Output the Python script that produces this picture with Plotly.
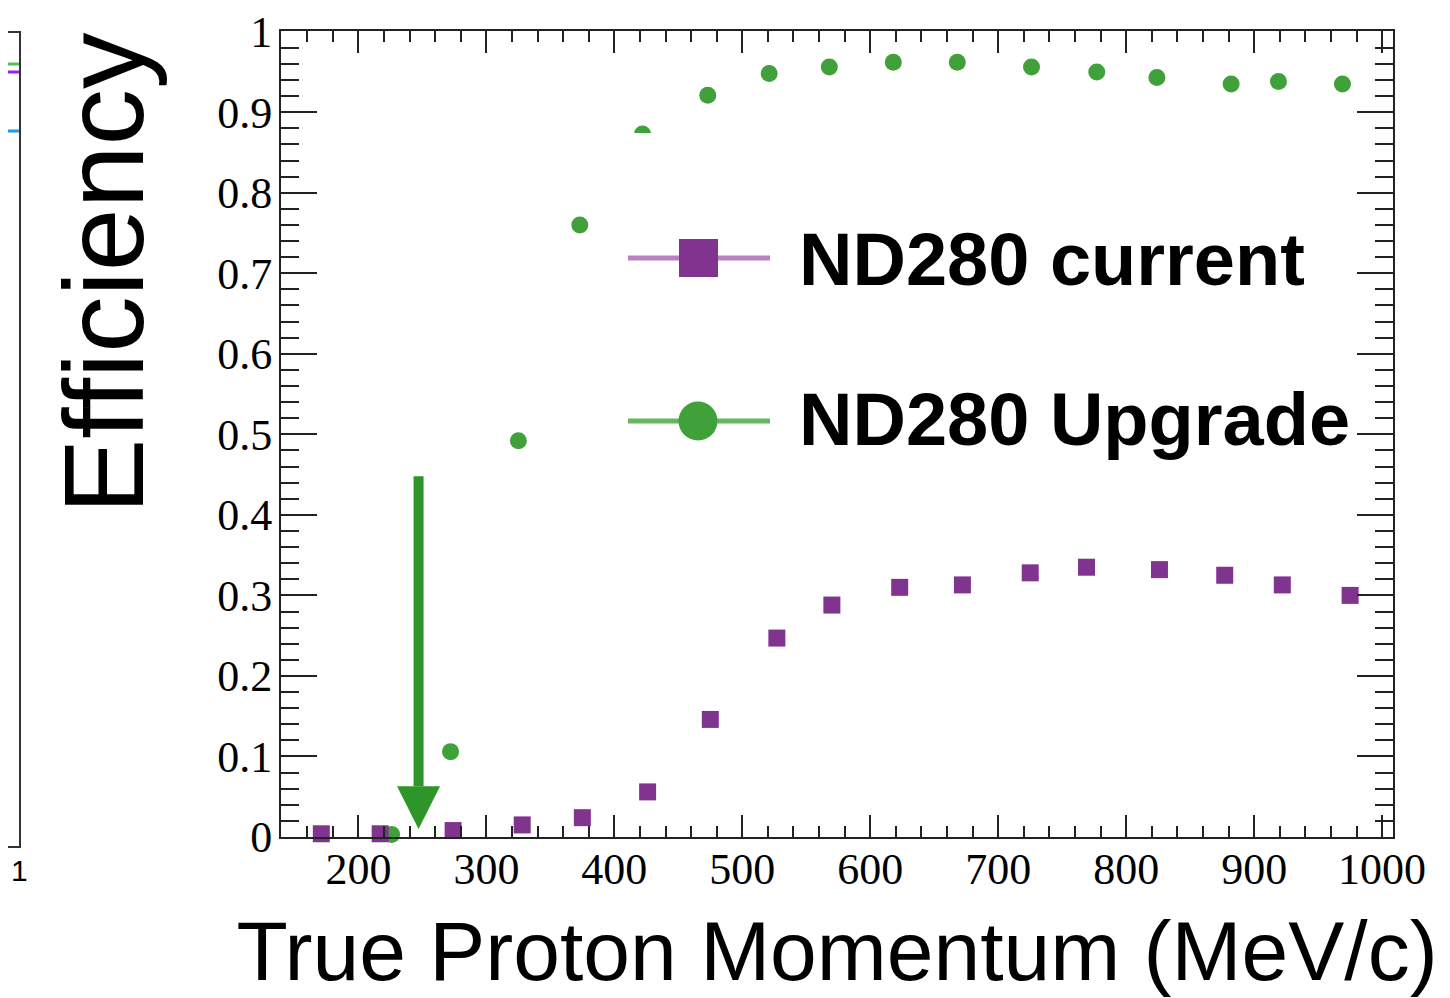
import plotly.graph_objects as go

# ---------------- data ----------------
current_x = [171, 217, 274, 328, 375, 426, 475, 527, 570, 623, 672, 725, 769, 826, 877, 922, 975]
current_y = [0.004, 0.004, 0.008, 0.015, 0.024, 0.056, 0.146, 0.247, 0.288, 0.310, 0.313,
             0.328, 0.335, 0.332, 0.325, 0.313, 0.300]
upgrade_x = [226, 272, 325, 373, 422, 473, 521, 568, 618, 668, 726, 777, 824, 882, 919, 969]
upgrade_y = [0.003, 0.106, 0.492, 0.760, 0.873, 0.921, 0.948, 0.956, 0.962, 0.962, 0.956,
             0.950, 0.943, 0.935, 0.938, 0.935]
series_names = ["ND280 current", "ND280 Upgrade"]
x_title = "True Proton Momentum (MeV/c)"
y_title = "Efficiency"
x_range = [139.5, 1008.5]
y_range = [0, 1.0008]
arrow_x = 247            # momentum marked by the arrow
arrow_top, arrow_base, arrow_tip = 0.448, 0.063, 0.010

# ---------------- styles ----------------
PURPLE = "#80348f"
PURPLE_L = "#b882c0"
GREEN = "#40a03a"
GREEN_L = "#66b660"
ARROW = "#2e9628"
OFF = 8                      # the page's default body margin shifts the figure by 8 px
W, H = 1450 - OFF, 998 - OFF
L, R, T, B = 281, 1393, 31, 837   # plot area in window pixels


def px(x):
    return (x - L) / (R - L)


def py(y):
    return (B - y) / (B - T)


fig = go.Figure()
fig.add_trace(go.Scatter(x=upgrade_x, y=upgrade_y, mode="markers", name=series_names[1],
                         marker=dict(symbol="circle", size=17, color=GREEN),
                         cliponaxis=False, showlegend=False))
fig.add_trace(go.Scatter(x=current_x, y=current_y, mode="markers", name=series_names[0],
                         marker=dict(symbol="square", size=17, color=PURPLE),
                         cliponaxis=False, showlegend=False))

axis_common = dict(showline=True, linecolor="#222", linewidth=2, mirror="allticks",
                   ticks="inside", tickcolor="#222", tickwidth=2, showgrid=False,
                   zeroline=False, automargin=False,
                   tickfont=dict(family="Liberation Serif, Times New Roman, serif", size=44,
                                 color="black"))

fig.update_xaxes(range=x_range, tick0=0, dtick=100, ticklen=22, ticklabelstandoff=-8,
                 minor=dict(dtick=20, ticklen=11, ticks="inside", tickcolor="#222",
                            tickwidth=2, showgrid=False),
                 title=dict(text=x_title, standoff=35,
                            font=dict(family="Liberation Sans, Arial, sans-serif", size=84,
                                      color="black")),
                 **axis_common)
fig.update_yaxes(range=y_range, tick0=0, dtick=0.1, ticklen=36, ticklabelstandoff=-2,
                 minor=dict(dtick=0.02, ticklen=18, ticks="inside", tickcolor="#222",
                            tickwidth=2, showgrid=False),
                 **axis_common)

shapes = []
# arrow (data coordinates)
shapes.append(dict(type="line", xref="x", yref="y", x0=arrow_x, x1=arrow_x,
                   y0=arrow_top, y1=arrow_base, line=dict(color=ARROW, width=10),
                   layer="above"))
shapes.append(dict(type="path", xref="x", yref="y",
                   path=f"M {arrow_x - 16.8},{arrow_base} L {arrow_x + 16.8},{arrow_base} "
                        f"L {arrow_x},{arrow_tip} Z",
                   fillcolor=ARROW, line=dict(color=ARROW, width=0), layer="above"))

# legend (drawn manually to match the large legend symbols)
shapes.append(dict(type="rect", xref="paper", yref="paper", x0=px(624), x1=px(1352),
                   y0=py(470), y1=py(133), fillcolor="white", line=dict(width=0),
                   layer="above"))
shapes.append(dict(type="line", xref="paper", yref="paper", x0=px(628), x1=px(770),
                   y0=py(258), y1=py(258), line=dict(color=PURPLE_L, width=5), layer="above"))
shapes.append(dict(type="rect", xref="paper", yref="paper", x0=px(679), x1=px(718),
                   y0=py(277), y1=py(239), fillcolor=PURPLE, line=dict(width=0),
                   layer="above"))
shapes.append(dict(type="line", xref="paper", yref="paper", x0=px(628), x1=px(770),
                   y0=py(421), y1=py(421), line=dict(color=GREEN_L, width=5), layer="above"))
shapes.append(dict(type="circle", xref="paper", yref="paper", x0=px(678.5), x1=px(717.5),
                   y0=py(440.5), y1=py(401.5), fillcolor=GREEN, line=dict(width=0),
                   layer="above"))

# fragment of the neighbouring panel at the left edge
shapes.append(dict(type="path", xref="paper", yref="paper",
                   path=f"M {px(0)},{py(32)} L {px(20)},{py(32)} L {px(20)},{py(847)} "
                        f"L {px(0)},{py(847)}",
                   line=dict(color="#333", width=2)))
for yy, cc in [(64, "#52c24e"), (72, "#9a22ee"), (131, "#1f97f0")]:
    shapes.append(dict(type="line", xref="paper", yref="paper", x0=px(0), x1=px(19),
                       y0=py(yy), y1=py(yy), line=dict(color=cc, width=3)))

annotations = [
    dict(text=series_names[0], xref="paper", yref="paper", x=px(797), y=py(260),
         xanchor="left", yanchor="middle", showarrow=False,
         font=dict(family="Liberation Sans, Arial, sans-serif", size=74, color="black",
                   weight="bold")),
    dict(text=series_names[1], xref="paper", yref="paper", x=px(797), y=py(420),
         xanchor="left", yanchor="middle", showarrow=False,
         font=dict(family="Liberation Sans, Arial, sans-serif", size=74, color="black",
                   weight="bold")),
    dict(text=y_title, xref="paper", yref="paper", x=px(104), y=py(273),
         xanchor="center", yanchor="middle", textangle=-90, showarrow=False,
         font=dict(family="Liberation Sans, Arial, sans-serif", size=113, color="black")),
    dict(text="1", xref="paper", yref="paper", x=px(19), y=py(870),
         xanchor="center", yanchor="middle", showarrow=False,
         font=dict(family="Liberation Sans, Arial, sans-serif", size=30, color="black")),
]

fig.update_layout(width=W, height=H,
                  margin=dict(l=L - OFF, r=W - (R - OFF), t=T - OFF, b=H - (B - OFF)),
                  plot_bgcolor="white", paper_bgcolor="white",
                  shapes=shapes, annotations=annotations, showlegend=False)

fig.write_html("out.html")
